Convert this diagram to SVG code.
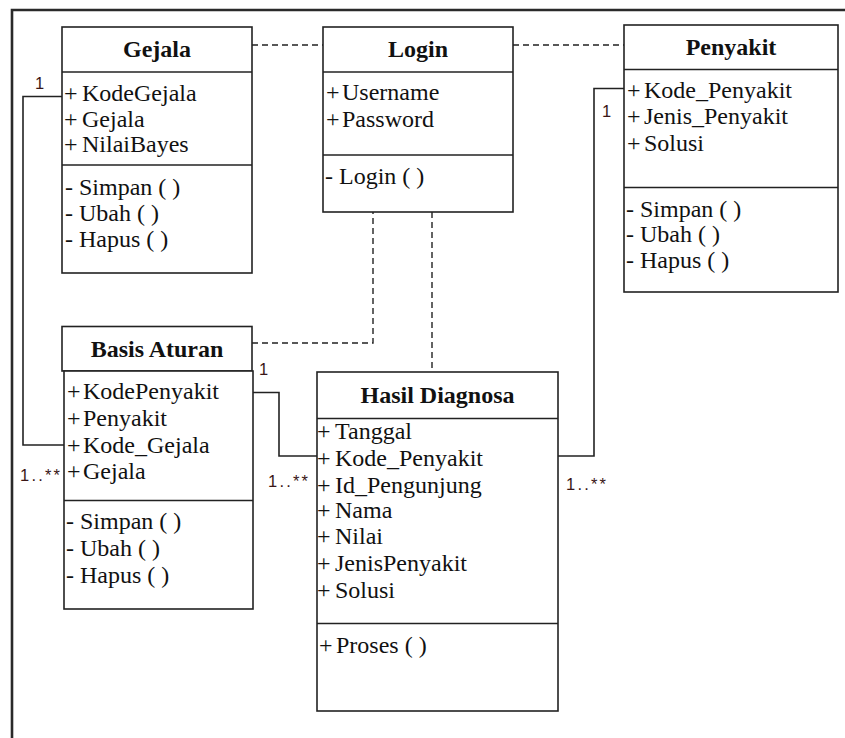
<svg xmlns="http://www.w3.org/2000/svg" width="845" height="738" viewBox="0 0 845 738">
  <style>
    .box { fill: #ffffff; stroke: #222222; stroke-width: 1.6; }
    .div { stroke: #222222; stroke-width: 1.6; fill: none; }
    .title { font-family: "Liberation Serif", "Times New Roman", serif; font-size: 24px; font-weight: bold; fill: #111111; text-anchor: middle; }
    .item { font-family: "Liberation Serif", "Times New Roman", serif; font-size: 24px; fill: #111111; }
    .link { stroke: #222222; stroke-width: 1.6; fill: none; }
    .dep { stroke: #222222; stroke-width: 1.4; fill: none; stroke-dasharray: 6 4; }
    .mult { font-family: "Liberation Sans", Arial, sans-serif; font-size: 16.5px; fill: #3a1616; }
  </style>

  <rect width="845" height="738" fill="#ffffff"/>
  <!-- outer frame -->
  <path d="M12 738 V10 H845" fill="none" stroke="#2a2a2a" stroke-width="2.6"/>

  <!-- connectors -->
  <g id="connectors">
    <line class="dep" x1="252" y1="45" x2="323" y2="45"/>
    <line class="dep" x1="513" y1="45" x2="624" y2="45"/>
    <polyline class="dep" points="252,343 373,343 373,212"/>
    <line class="dep" x1="432" y1="212" x2="432" y2="372"/>
    <polyline class="link" points="62,96.5 23,96.5 23,445 64,445"/>
    <polyline class="link" points="253,392.5 279,392.5 279,456 317,456"/>
    <polyline class="link" points="624,88.5 594,88.5 594,456 558,456"/>
    <text class="mult" x="35" y="89">1</text>
    <text class="mult" x="20" y="481" textLength="40" lengthAdjust="spacing">1..**</text>
    <text class="mult" x="259" y="375">1</text>
    <text class="mult" x="268" y="487" textLength="40" lengthAdjust="spacing">1..**</text>
    <text class="mult" x="602" y="117">1</text>
    <text class="mult" x="566" y="490" textLength="40" lengthAdjust="spacing">1..**</text>
  </g>

  <!-- Gejala -->
  <g id="gejala">
    <rect class="box" x="62" y="27" width="190" height="246"/>
    <line class="div" x1="62" y1="72" x2="252" y2="72"/>
    <line class="div" x1="62" y1="165" x2="252" y2="165"/>
    <text class="title" x="157" y="57">Gejala</text>
    <text class="item" x="64" y="101">+<tspan x="82">KodeGejala</tspan></text>
    <text class="item" x="64" y="127">+<tspan x="82">Gejala</tspan></text>
    <text class="item" x="64" y="152">+<tspan x="82">NilaiBayes</tspan></text>
    <text class="item" x="65" y="195">- Simpan ( )</text>
    <text class="item" x="65" y="221">- Ubah ( )</text>
    <text class="item" x="65" y="247">- Hapus ( )</text>
  </g>

  <!-- Login -->
  <g id="login">
    <rect class="box" x="323" y="27" width="190" height="185"/>
    <line class="div" x1="323" y1="72" x2="513" y2="72"/>
    <line class="div" x1="323" y1="155" x2="513" y2="155"/>
    <text class="title" x="418" y="57">Login</text>
    <text class="item" x="326" y="100">+<tspan x="342">Username</tspan></text>
    <text class="item" x="326" y="127">+<tspan x="342">Password</tspan></text>
    <text class="item" x="325" y="184">- Login ( )</text>
  </g>

  <!-- Penyakit -->
  <g id="penyakit">
    <rect class="box" x="624" y="25" width="214" height="267"/>
    <line class="div" x1="624" y1="69.5" x2="838" y2="69.5"/>
    <line class="div" x1="624" y1="187.5" x2="838" y2="187.5"/>
    <text class="title" x="731" y="55">Penyakit</text>
    <text class="item" x="627" y="98">+<tspan x="644">Kode_Penyakit</tspan></text>
    <text class="item" x="627" y="124">+<tspan x="644">Jenis_Penyakit</tspan></text>
    <text class="item" x="627" y="151">+<tspan x="644">Solusi</tspan></text>
    <text class="item" x="626" y="217">- Simpan ( )</text>
    <text class="item" x="626" y="242">- Ubah ( )</text>
    <text class="item" x="626" y="268">- Hapus ( )</text>
  </g>

  <!-- Basis Aturan -->
  <g id="basis-aturan">
    <rect class="box" x="62" y="326.5" width="190" height="44.5"/>
    <rect class="box" x="64" y="371" width="189" height="238"/>
    <line class="div" x1="64" y1="500.5" x2="253" y2="500.5"/>
    <text class="title" x="157" y="357">Basis Aturan</text>
    <text class="item" x="67" y="399">+<tspan x="83">KodePenyakit</tspan></text>
    <text class="item" x="67" y="426">+<tspan x="83">Penyakit</tspan></text>
    <text class="item" x="67" y="453">+<tspan x="83">Kode_Gejala</tspan></text>
    <text class="item" x="67" y="479">+<tspan x="83">Gejala</tspan></text>
    <text class="item" x="66" y="529">- Simpan ( )</text>
    <text class="item" x="66" y="556">- Ubah ( )</text>
    <text class="item" x="66" y="583">- Hapus ( )</text>
  </g>

  <!-- Hasil Diagnosa -->
  <g id="hasil-diagnosa">
    <rect class="box" x="317" y="372" width="241" height="339"/>
    <line class="div" x1="317" y1="418.5" x2="558" y2="418.5"/>
    <line class="div" x1="317" y1="623.5" x2="558" y2="623.5"/>
    <text class="title" x="437.5" y="403">Hasil Diagnosa</text>
    <text class="item" x="317" y="439">+<tspan x="335">Tanggal</tspan></text>
    <text class="item" x="317" y="466">+<tspan x="335">Kode_Penyakit</tspan></text>
    <text class="item" x="317" y="493">+<tspan x="335">Id_Pengunjung</tspan></text>
    <text class="item" x="317" y="518">+<tspan x="335">Nama</tspan></text>
    <text class="item" x="317" y="544">+<tspan x="335">Nilai</tspan></text>
    <text class="item" x="317" y="571">+<tspan x="335">JenisPenyakit</tspan></text>
    <text class="item" x="317" y="598">+<tspan x="335">Solusi</tspan></text>
    <text class="item" x="319" y="653">+<tspan x="336">Proses ( )</tspan></text>
  </g>
</svg>
